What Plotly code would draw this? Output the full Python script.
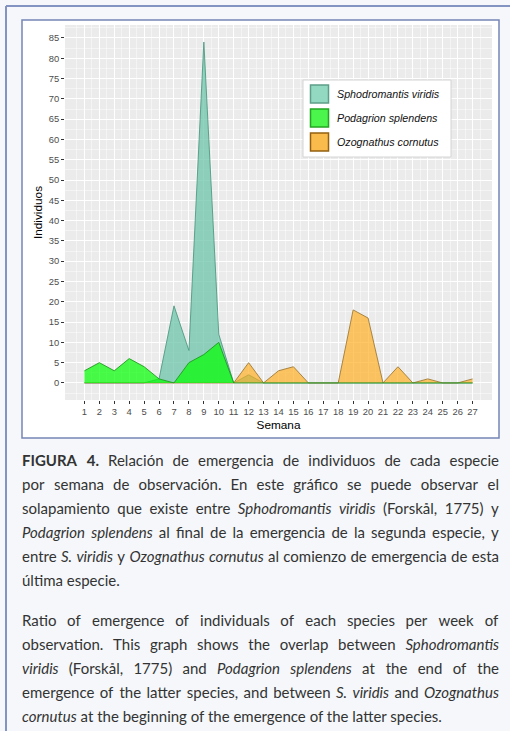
import json
import plotly.graph_objects as go

# ---------------- data ----------------
weeks = list(range(1, 28))
week_labels = [str(w) for w in weeks]
series_names = ["Sphodromantis viridis", "Podagrion splendens", "Ozognathus cornutus"]
sphodromantis = [0, 0, 0, 0, 0, 1, 19, 8, 84, 12, 0, 2, 0, 0, 0, 0, 0, 0, 0, 0, 0, 0, 0, 0, 0, 0, 0]
podagrion = [3, 5, 3, 6, 4, 1, 0, 5, 7, 10, 0, 0, 0, 0, 0, 0, 0, 0, 0, 0, 0, 0, 0, 0, 0, 0, 0]
ozognathus = [0, 0, 0, 0, 0, 0, 0, 0, 0, 0, 0, 5, 0, 3, 4, 0, 0, 0, 18, 16, 0, 4, 0, 1, 0, 0, 1]
y_ticks = list(range(0, 90, 5))

# caption lines ("*" prefix = bold word, "_" prefix = italic word)
caption_p1 = [
    "*FIGURA *4. Relación de emergencia de individuos de cada especie",
    "por semana de observación. En este gráfico se puede observar el",
    "solapamiento que existe entre _Sphodromantis _viridis (Forskål, 1775) y",
    "_Podagrion _splendens al final de la emergencia de la segunda especie, y",
    "entre _S. _viridis y _Ozognathus _cornutus al comienzo de emergencia de esta",
    "última especie.",
]
caption_p2 = [
    "Ratio of emergence of individuals of each species per week of",
    "observation. This graph shows the overlap between _Sphodromantis",
    "_viridis (Forskål, 1775) and _Podagrion _splendens at the end of the",
    "emergence of the latter species, and between _S. _viridis and _Ozognathus",
    "_cornutus at the beginning of the emergence of the latter species.",
]

# ---------------- styling ----------------
W, H = 510, 731
L, R, T, B = 65, 492, 25, 400


def px(x):
    return (x - L) / (R - L)


def py(y):
    return (B - y) / (B - T)


fills = {
    "teal": "rgba(102,194,165,0.72)",
    "green": "rgba(0,255,0,0.70)",
    "orange": "rgba(255,172,30,0.68)",
}
lines = {"teal": "#4f9a82", "green": "#1f9a1f", "orange": "#a07a35"}

fig = go.Figure()
order = [
    (sphodromantis, series_names[0], "teal"),
    (ozognathus, series_names[2], "orange"),
    (podagrion, series_names[1], "green"),
]
for vals, name, key in order:
    fig.add_trace(go.Scatter(
        x=weeks, y=vals, name=name, mode="lines", fill="tozeroy",
        fillcolor=fills[key], line=dict(color=lines[key], width=0.9),
        showlegend=False, hoverinfo="skip",
    ))

shapes = []
shapes.append(dict(type="line", xref="paper", yref="paper", x0=px(6), x1=px(512), y0=py(6), y1=py(6),
                   line=dict(color="#8494c2", width=2), layer="below"))
shapes.append(dict(type="line", xref="paper", yref="paper", x0=px(6), x1=px(6), y0=py(6), y1=py(733),
                   line=dict(color="#8494c2", width=2), layer="below"))
shapes.append(dict(type="rect", xref="paper", yref="paper", x0=px(22), x1=px(499), y0=py(438), y1=py(20),
                   fillcolor="white", line=dict(color="#7585b5", width=1.5), layer="below"))
shapes.append(dict(type="rect", xref="paper", yref="paper", x0=0, x1=1, y0=0, y1=1,
                   fillcolor="#EBEBEB", line=dict(width=0), layer="below"))

# manual legend
shapes.append(dict(type="rect", xref="paper", yref="paper", x0=px(303), x1=px(451), y0=py(157), y1=py(80),
                   fillcolor="white", line=dict(color="#d4d4d4", width=1)))
key_style = [("#93d8c0", "#5e9f88"), ("#4cf54c", "#22a522"), ("#f8bb4c", "#94600f")]
key_tops = [85, 109, 133]
annotations = []
for (kf, kl), top, name in zip(key_style, key_tops, series_names):
    shapes.append(dict(type="rect", xref="paper", yref="paper", x0=px(310.5), x1=px(328.5),
                       y0=py(top + 18), y1=py(top), fillcolor=kf, line=dict(color=kl, width=1.5)))
    annotations.append(dict(xref="paper", yref="paper", x=px(335), y=py(top + 9), xanchor="left",
                            yanchor="middle", text="<i>" + name + "</i>", showarrow=False,
                            font=dict(family="Liberation Sans, Arial", size=10.7, color="#111111")))

# ---------------- justified caption ----------------
FS = 15
CW = {' ': 0.193}
for ch in "abdghnopqu":
    CW[ch] = 0.55
CW.update({'c': 0.46, 'e': 0.51, 'f': 0.32, 'i': 0.23, 'j': 0.23, 'k': 0.50, 'l': 0.23, 'm': 0.83,
           'r': 0.36, 's': 0.42, 't': 0.35, 'v': 0.50, 'w': 0.76, 'x': 0.49, 'y': 0.50, 'z': 0.45,
           'á': 0.49, 'é': 0.51, 'ó': 0.55, 'ú': 0.55, 'å': 0.49, 'a': 0.49,
           '.': 0.2, ',': 0.2, '(': 0.3, ')': 0.3})


def est_width(word, style):
    w = 0
    for ch in word:
        if ch in CW:
            w += CW[ch]
        elif ch.isdigit():
            w += 0.58
        elif ch.isupper():
            w += {'I': 0.27, 'S': 0.5, 'F': 0.53, 'E': 0.55, 'T': 0.55, 'P': 0.58,
                  'O': 0.75, 'G': 0.7, 'U': 0.7, 'A': 0.68, 'R': 0.6}.get(ch, 0.65)
        else:
            w += 0.5
    if style == "b":
        w *= 1.06
    return w * FS


def parse(line):
    out = []
    for tok in line.split(" "):
        if tok.startswith("*"):
            out.append((tok[1:], "b"))
        elif tok.startswith("_"):
            out.append((tok[1:], "i"))
        else:
            out.append((tok, ""))
    return out


def fmt(word, style):
    if style == "b":
        return "<b>" + word + "</b>"
    if style == "i":
        return "<i>" + word + "</i>"
    return word


XL, XR = 22, 499
justify_groups = []
left_groups = []


def add_line(line, ypix, justify):
    words = parse(line)
    font = dict(family="Lato", size=FS, color="#333333")
    if not justify:
        txt = " ".join(fmt(w, s) for w, s in words)
        left_groups.append(len(annotations))
        annotations.append(dict(xref="paper", yref="paper", x=px(XL - 3), y=py(ypix), xanchor="left",
                                yanchor="middle", text=txt, showarrow=False, font=font))
        return
    widths = [est_width(w, s) for w, s in words]
    gap = (XR - XL - sum(widths)) / (len(words) - 1)
    x = XL
    idx = []
    for i, ((w, s), wd) in enumerate(zip(words, widths)):
        last = i == len(words) - 1
        idx.append(len(annotations))
        annotations.append(dict(xref="paper", yref="paper", x=px(XR if last else x), y=py(ypix),
                                xanchor="right" if last else "left", yanchor="middle",
                                text=fmt(w, s), showarrow=False, font=font))
        x += wd + gap
    justify_groups.append(idx)


for i, t in enumerate(caption_p1):
    add_line(t, 460 + 24 * i, i < len(caption_p1) - 1)
for i, t in enumerate(caption_p2):
    add_line(t, 620 + 24 * i, i < len(caption_p2) - 1)

fig.update_layout(
    width=W, height=H,
    margin=dict(l=L, r=W - R, t=T, b=H - B, pad=0),
    paper_bgcolor="#f5f7fa",
    plot_bgcolor="rgba(0,0,0,0)",
    shapes=shapes,
    annotations=annotations,
    showlegend=False,
    hovermode=False,
    font=dict(family="Liberation Sans, Arial", color="#4d4d4d"),
)
fig.update_xaxes(
    range=[-0.3, 28.3], tickmode="array", tickvals=weeks, ticktext=week_labels,
    showgrid=True, gridcolor="white", gridwidth=1, zeroline=False, showline=False,
    ticks="outside", ticklen=3, tickcolor="#333333", tickwidth=1,
    tickfont=dict(size=9.4, color="#4d4d4d"),
    minor=dict(tickmode="array", tickvals=[w + 0.5 for w in [0] + weeks], showgrid=True,
               gridcolor="rgba(255,255,255,0.75)", gridwidth=0.6, ticks=""),
    title=dict(text="Semana", standoff=4, font=dict(size=11.8, color="black")),
)
fig.update_yaxes(
    range=[-4.2, 88.2], tickmode="array", tickvals=y_ticks, ticktext=[str(v) for v in y_ticks],
    showgrid=True, gridcolor="white", gridwidth=1, zeroline=False, showline=False,
    ticks="outside", ticklen=3, tickcolor="#333333", tickwidth=1,
    tickfont=dict(size=9.4, color="#4d4d4d"),
    minor=dict(tickmode="array", tickvals=[v + 2.5 for v in [-5] + y_ticks], showgrid=True,
               gridcolor="rgba(255,255,255,0.75)", gridwidth=0.6, ticks=""),
    title=dict(text="Individuos", standoff=3, font=dict(size=11.8, color="black")),
)

post_js = """
document.body.style.margin = '0px';
(function(){
  var groups = %s, lefts = %s, XL = %d, XR = %d;
  function shift(e, dx){
    var tr = e.getAttribute('transform') || '';
    e.setAttribute('transform', tr + ' translate(' + dx + ',0)');
  }
  function justify(){
    var gd = document.getElementsByClassName('plotly-graph-div')[0];
    if (!gd) return;
    var gdr = gd.getBoundingClientRect();
    function ann(i){ return gd.querySelector('g.annotation[data-index="' + i + '"]'); }
    groups.forEach(function(idx){
      var els = idx.map(ann);
      if (els.some(function(e){ return !e; })) return;
      var rects = els.map(function(e){ return e.querySelector('text').getBoundingClientRect(); });
      var sum = rects.reduce(function(a, r){ return a + r.width; }, 0);
      var gap = (XR - XL - sum) / (rects.length - 1);
      var x = XL;
      els.forEach(function(e, k){
        shift(e, x - (rects[k].left - gdr.left));
        x += rects[k].width + gap;
      });
    });
    lefts.forEach(function(i){
      var e = ann(i);
      if (!e) return;
      var r = e.querySelector('text').getBoundingClientRect();
      shift(e, XL - (r.left - gdr.left));
    });
  }
  if (document.fonts && document.fonts.ready) { document.fonts.ready.then(justify); } else { justify(); }
})();
""" % (json.dumps(justify_groups), json.dumps(left_groups), XL, XR)

fig.write_html("out.html", config={"displayModeBar": False, "staticPlot": True}, post_script=post_js)
